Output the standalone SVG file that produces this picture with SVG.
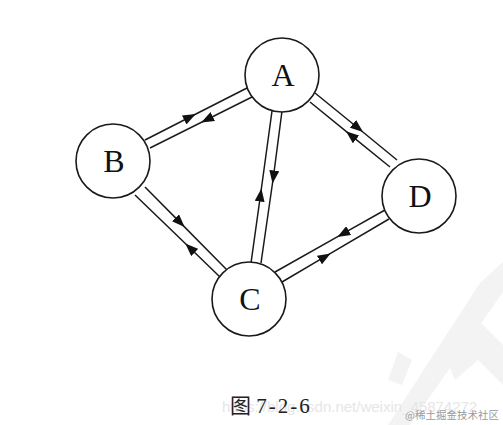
<svg xmlns="http://www.w3.org/2000/svg" width="503" height="425" viewBox="0 0 503 425">
<style>
.node circle{fill:#fff;stroke:#1a1a1a;stroke-width:1.6}
.node text{font-family:"Liberation Serif","Times New Roman",serif;font-size:32px;fill:#111;text-anchor:middle}
.edge{fill:none;stroke:#1a1a1a;stroke-width:1.5;marker-mid:url(#arr)}
.cap{font-family:"Liberation Serif","Noto Sans CJK SC",serif;font-size:21px;fill:#222}
.wm{font-family:"Liberation Sans",Arial,sans-serif;font-size:15px;fill:#e6e6e6}
.wm2{font-family:"Noto Sans CJK SC",sans-serif;font-size:10.5px;fill:#9a9a9a}
.bg{fill:#f3f3f3}
</style>
<defs>
<marker id="arr" viewBox="0 0 13 10" refX="6.5" refY="5" markerWidth="13" markerHeight="10" markerUnits="userSpaceOnUse" orient="auto">
<path d="M0,0 L13,5 L0,10 z" fill="#111"/>
</marker>
</defs>
<rect width="503" height="425" fill="#fff"/>
<g id="watermark-shapes">
<polygon class="bg" points="388,425 410,425 503,292 503,262 480,283"/>
<polygon class="bg" points="440,345 470,312 503,345 503,385 478,360 455,380"/>
<polygon class="bg" points="388,380 398,352 412,360 402,385"/>
</g>
<g id="connectors">
<path class="edge" d="M145,140 L190,117 L247,88"/>
<path class="edge" d="M252,97 L207,119.5 L150,148"/>
<path class="edge" d="M282,111 L273.4,177 L261,263"/>
<path class="edge" d="M251,263 L260.5,195 L272,111"/>
<path class="edge" d="M315,93 L358,128 L397,160"/>
<path class="edge" d="M390,167 L351,135.3 L310,102"/>
<path class="edge" d="M385,210 L343,233.7 L275,272"/>
<path class="edge" d="M282,282 L325,256.7 L389,219"/>
<path class="edge" d="M145,187 L180,222.4 L227,270"/>
<path class="edge" d="M220,277 L190,248 L135,195"/>
</g>
<g id="A" class="node"><circle cx="282" cy="75" r="37"/><text x="283" y="86">A</text></g>
<g id="B" class="node"><circle cx="113" cy="161" r="37"/><text x="114" y="172">B</text></g>
<g id="C" class="node"><circle cx="249" cy="299" r="37"/><text x="250" y="310">C</text></g>
<g id="D" class="node"><circle cx="419" cy="196" r="37"/><text x="420" y="207">D</text></g>
<text class="wm" x="222" y="412">https://blog.csdn.net/weixin_45874272</text>
<text class="cap" x="230" y="413">图 <tspan letter-spacing="2">7-2-6</tspan></text>
<text class="wm2" x="405" y="419">@稀土掘金技术社区</text>
</svg>
